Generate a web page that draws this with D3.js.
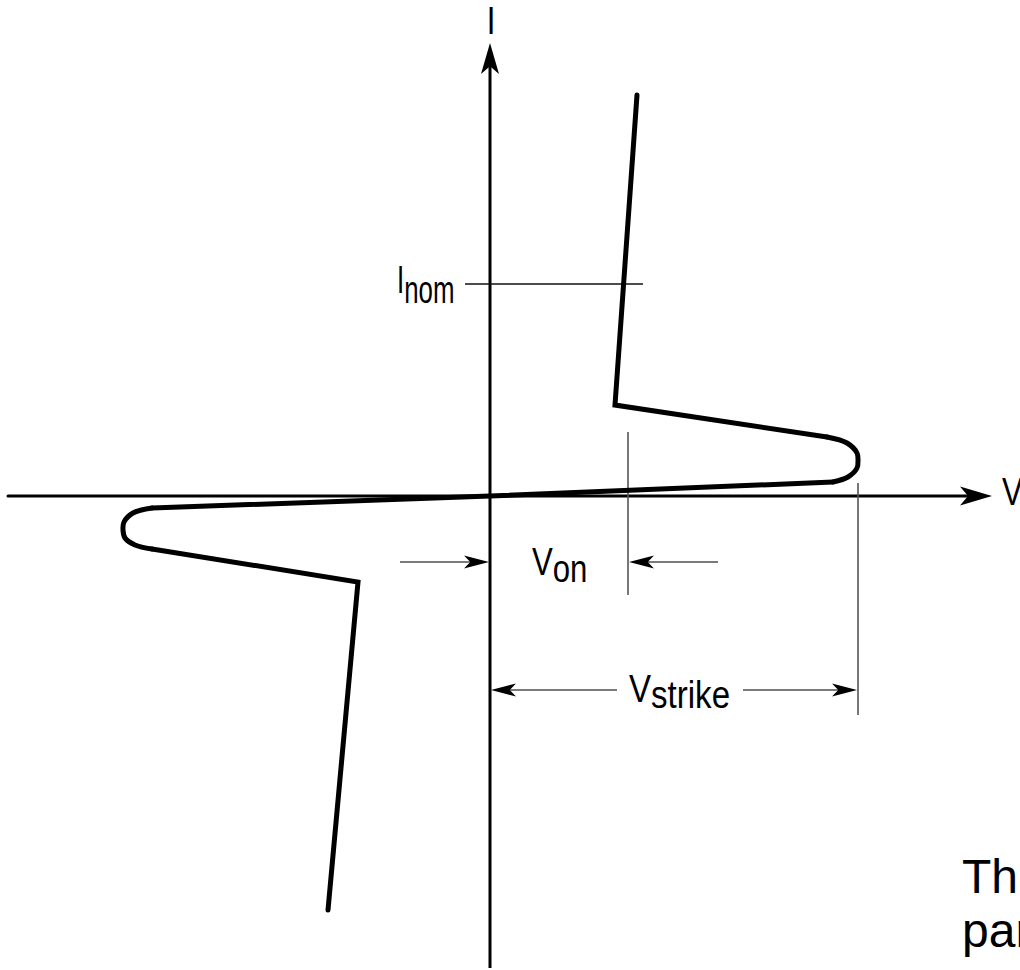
<!DOCTYPE html>
<html>
<head>
<meta charset="utf-8">
<script src="https://cdn.jsdelivr.net/npm/d3@7"></script>
<style>
  html, body { margin: 0; padding: 0; background: #fff; overflow: hidden; }
  svg { display: block; }
  .lbl { font-family: "Liberation Sans", Arial, sans-serif; font-size: 38px; fill: #000; }
  .para { font-family: "Liberation Sans", Arial, sans-serif; font-size: 48px; fill: #000; }
</style>
</head>
<body>
<script>
// ---- data (V and I in arbitrary diagram units) ----
const vAxisExtent = [-48.2, 50.2];
const iAxisExtent = [-47.2, 45.3];

// positive branch: steep on-state line, corner, negative-resistance line
const posStraightV = [14.7, 12.5, 33.7];
const posStraightI = [40.1, 9.1, 5.9];
// positive turnaround (breakover)
const posTurnV = [33.7, 35.7, 36.7, 36.8, 36.7, 35.8, 34.3];
const posTurnI = [5.9, 5.3, 4.3, 3.6, 2.8, 1.9, 1.4];
// blocking region through origin
const blockV = [34.3, 0, -33.8];
const blockI = [1.4, 0, -1.2];
// negative turnaround
const negTurnV = [-33.8, -35.7, -36.6, -36.7, -36.5, -35.5, -33.8];
const negTurnI = [-1.2, -1.7, -2.6, -3.4, -4.2, -4.9, -5.3];
// negative branch
const negStraightV = [-33.8, -13.2, -16.2];
const negStraightI = [-5.3, -8.6, -41.4];

const vOn = 13.8;
const vStrike = 36.8;
const iNom = 21.2;
const iNomLineV = [-2.5, 15.3];
const vOnMarkI = [6.4, -9.9];
const vStrikeMarkI = [1.3, -21.9];
const vOnArrowI = -6.6;
const vOnArrowOuter = [-9.0, 22.8];
const vStrikeArrowI = -19.4;
const vStrikeGap = [12.7, 25.3];

// ---- layout ----
const W = 1020, H = 970;
const x = d3.scaleLinear().domain(vAxisExtent).range([8, 992]);
const y = d3.scaleLinear().domain(iAxisExtent).range([968, 43]);

const svg = d3.select("body").append("svg").attr("width", W).attr("height", H);

const zip = (a, b) => a.map((v, i) => [v, b[i]]);
const lin = d3.line().x(d => x(d[0])).y(d => y(d[1])).curve(d3.curveLinear);
const smooth = d3.line().x(d => x(d[0])).y(d => y(d[1])).curve(d3.curveCatmullRom.alpha(0.5));

function arrowHead(g, tipX, tipY, dir, len, half, fill) {
  let p;
  const notch = len * 0.25;
  if (dir === "up") p = [[tipX, tipY], [tipX + half, tipY + len], [tipX, tipY + len - notch], [tipX - half, tipY + len]];
  else if (dir === "right") p = [[tipX, tipY], [tipX - len, tipY - half], [tipX - len + notch, tipY], [tipX - len, tipY + half]];
  else p = [[tipX, tipY], [tipX + len, tipY - half], [tipX + len - notch, tipY], [tipX + len, tipY + half]];
  g.append("path").attr("d", "M" + p.map(q => q.join(",")).join("L") + "Z").attr("fill", fill);
}

// axes
const axes = svg.append("g");
axes.append("line").attr("x1", x(vAxisExtent[0])).attr("x2", x(vAxisExtent[1]) - 20)
  .attr("y1", y(0)).attr("y2", y(0)).attr("stroke", "#000").attr("stroke-width", 3).attr("stroke-linecap", "round");
axes.append("line").attr("x1", x(0)).attr("x2", x(0))
  .attr("y1", y(iAxisExtent[0])).attr("y2", y(iAxisExtent[1]) + 20).attr("stroke", "#000").attr("stroke-width", 3);
arrowHead(axes, x(vAxisExtent[1]), y(0), "right", 32, 9.5, "#000");
arrowHead(axes, x(0), y(iAxisExtent[1]), "up", 31, 9, "#000");

// Inom line
svg.append("line").attr("x1", x(iNomLineV[0])).attr("x2", x(iNomLineV[1]))
  .attr("y1", y(iNom)).attr("y2", y(iNom)).attr("stroke", "#111").attr("stroke-width", 1.5);

// marker lines
svg.append("line").attr("x1", x(vOn)).attr("x2", x(vOn)).attr("y1", y(vOnMarkI[0])).attr("y2", y(vOnMarkI[1]))
  .attr("stroke", "#555").attr("stroke-width", 1.6);
svg.append("line").attr("x1", x(vStrike)).attr("x2", x(vStrike)).attr("y1", y(vStrikeMarkI[0])).attr("y2", y(vStrikeMarkI[1]))
  .attr("stroke", "#555").attr("stroke-width", 1.6);

// curve
const curveG = svg.append("g").attr("fill", "none").attr("stroke", "#000").attr("stroke-width", 5)
  .attr("stroke-linejoin", "miter").attr("stroke-linecap", "round");
curveG.append("path").attr("d", lin(zip(posStraightV, posStraightI)));
curveG.append("path").attr("d", smooth(zip(posTurnV, posTurnI)));
curveG.append("path").attr("d", lin(zip(blockV, blockI)));
curveG.append("path").attr("d", smooth(zip(negTurnV, negTurnI)));
curveG.append("path").attr("d", lin(zip(negStraightV, negStraightI)));

// dimension arrows
const dim = svg.append("g");
function dimLine(x1, x2, yy) {
  dim.append("line").attr("x1", x1).attr("x2", x2).attr("y1", yy).attr("y2", yy)
    .attr("stroke", "#7a7a7a").attr("stroke-width", 2.2);
}
dimLine(x(vOnArrowOuter[0]), x(0) - 10, y(vOnArrowI));
arrowHead(dim, x(0) - 1, y(vOnArrowI), "right", 25, 6.5, "#000");
dimLine(x(vOnArrowOuter[1]), x(vOn) + 10, y(vOnArrowI));
arrowHead(dim, x(vOn) + 1, y(vOnArrowI), "left", 25, 6.5, "#000");
dimLine(x(vStrikeGap[0]), x(0) + 10, y(vStrikeArrowI));
arrowHead(dim, x(0) + 1, y(vStrikeArrowI), "left", 25, 6.5, "#000");
dimLine(x(vStrikeGap[1]), x(vStrike) - 10, y(vStrikeArrowI));
arrowHead(dim, x(vStrike) - 1, y(vStrikeArrowI), "right", 25, 6.5, "#000");

// labels (narrow look: horizontally condensed sans)
function narrowText(px, py, k, anchor) {
  return svg.append("g").attr("transform", `translate(${px},${py}) scale(${k},1)`)
    .append("text").attr("class", "lbl").attr("x", 0).attr("y", 0).attr("text-anchor", anchor || "start");
}
function subLabel(px, py, k, main, sub, dy) {
  const t = narrowText(px, py, k);
  t.append("tspan").text(main);
  t.append("tspan").attr("dy", dy).text(sub);
}
subLabel(397, 293, 0.68, "I", "nom", 10);
subLabel(532, 575, 0.82, "V", "on", 7);
subLabel(629, 702, 0.87, "V", "strike", 6);

narrowText(x(0) + 1, 34, 0.82, "middle").text("I");
narrowText(1002, 505, 0.82).text("V");

svg.append("text").attr("class", "para").attr("x", 962).attr("y", 893).text("Th");
svg.append("text").attr("class", "para").attr("x", 962).attr("y", 947).text("par");
</script>
</body>
</html>
